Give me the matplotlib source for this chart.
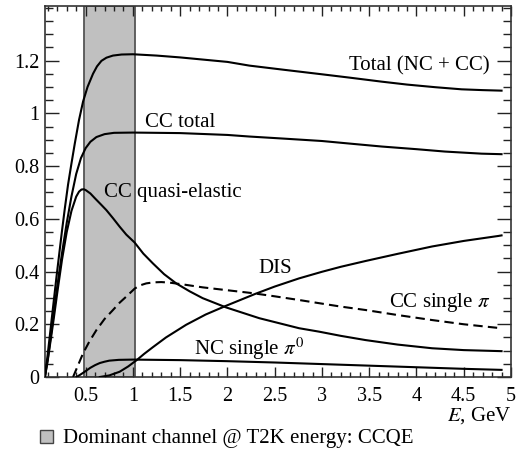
import matplotlib
matplotlib.use("Agg")
import matplotlib.pyplot as plt
from matplotlib.patches import Patch
from matplotlib.ticker import MultipleLocator, FuncFormatter

plt.rcParams['font.family'] = ['Liberation Serif', 'DejaVu Serif']
plt.rcParams['mathtext.fontset'] = 'stix'

# ---- data ----
total_E = [0.069, 0.10, 0.13, 0.16, 0.19, 0.22, 0.25, 0.28, 0.314, 0.35, 0.385, 0.43, 0.473, 0.52, 0.578,
           0.62, 0.667, 0.72, 0.789, 0.88, 1.0, 1.25, 1.5, 2.0, 2.231, 2.6, 3.0, 3.3, 3.634, 3.9, 4.2,
           4.478, 4.7, 4.9]
total_s = [0.0, 0.09, 0.185, 0.28, 0.375, 0.465, 0.555, 0.64, 0.73, 0.81, 0.885, 0.975, 1.045, 1.1, 1.15,
           1.178, 1.199, 1.211, 1.219, 1.223, 1.224, 1.219, 1.212, 1.195, 1.181, 1.165, 1.148, 1.135, 1.12,
           1.109, 1.099, 1.091, 1.088, 1.086]

cctot_E = [0.069, 0.10, 0.13, 0.16, 0.2, 0.25, 0.3, 0.35, 0.4, 0.45, 0.5, 0.55, 0.614, 0.7, 0.8, 1.0,
           1.5, 2.0, 2.231, 2.6, 3.0, 3.3, 3.634, 4.0, 4.3, 4.689, 4.9]
cctot_s = [0.0, 0.07, 0.15, 0.235, 0.345, 0.47, 0.585, 0.685, 0.77, 0.83, 0.868, 0.892, 0.91, 0.921, 0.926,
           0.927, 0.925, 0.918, 0.912, 0.904, 0.895, 0.885, 0.874, 0.864, 0.855, 0.847, 0.845]

ccqe_E = [0.069, 0.10, 0.13, 0.16, 0.2, 0.25, 0.3, 0.35, 0.4, 0.43, 0.456, 0.48, 0.5, 0.55, 0.6, 0.66,
          0.719, 0.79, 0.86, 0.93, 1.018, 1.11, 1.211, 1.33, 1.458, 1.6, 1.738, 1.985, 2.337, 2.758,
          2.969, 3.2, 3.462, 3.8, 4.165, 4.5, 4.9]
ccqe_s = [0.0, 0.065, 0.14, 0.215, 0.32, 0.445, 0.55, 0.63, 0.684, 0.703, 0.711, 0.712, 0.709, 0.696,
          0.677, 0.655, 0.633, 0.602, 0.57, 0.54, 0.51, 0.468, 0.431, 0.39, 0.355, 0.325, 0.299, 0.264,
          0.223, 0.185, 0.172, 0.156, 0.14, 0.123, 0.109, 0.102, 0.098]

ccpi_E = [0.367, 0.42, 0.473, 0.54, 0.614, 0.7, 0.789, 0.86, 0.93, 1.018, 1.071, 1.141, 1.22, 1.3, 1.387,
          1.55, 1.738, 2.0, 2.266, 2.5, 2.758, 2.969, 3.2, 3.462, 3.8, 4.165, 4.5, 4.868, 4.9]
ccpi_s = [0.0, 0.045, 0.09, 0.135, 0.178, 0.22, 0.254, 0.282, 0.305, 0.335, 0.347, 0.355, 0.359, 0.36, 0.358,
          0.35, 0.34, 0.329, 0.318, 0.306, 0.292, 0.28, 0.267, 0.254, 0.235, 0.216, 0.2, 0.186, 0.184]

dis_E = [0.65, 0.75, 0.86, 0.95, 1.04, 1.12, 1.211, 1.35, 1.563, 1.77, 1.985, 2.3, 2.5, 2.758, 3.0,
         3.2, 3.462, 3.8, 4.165, 4.5, 4.868, 4.9]
dis_s = [0.0, 0.006, 0.02, 0.04, 0.064, 0.088, 0.113, 0.15, 0.198, 0.237, 0.27, 0.316, 0.343, 0.374, 0.399,
         0.418, 0.44, 0.467, 0.495, 0.516, 0.535, 0.537]

ncpi0_E = [0.403, 0.44, 0.47, 0.51, 0.55, 0.6, 0.65, 0.7, 0.75, 0.85, 1.0, 1.5, 2.0, 2.5, 3.0, 3.5,
           4.0, 4.5, 4.9]
ncpi0_s = [0.0, 0.008, 0.015, 0.025, 0.035, 0.045, 0.053, 0.058, 0.062, 0.065, 0.066, 0.064, 0.06,
           0.055, 0.049, 0.043, 0.037, 0.031, 0.027]

band_lo, band_hi = 0.48, 1.02

x_ticks = [0.5, 1, 1.5, 2, 2.5, 3, 3.5, 4, 4.5, 5]
y_ticks = [0, 0.2, 0.4, 0.6, 0.8, 1.0, 1.2]

# ---- figure ----
fig = plt.figure(figsize=(5.17, 4.57), dpi=100)
ax = fig.add_axes([45/517, 1 - 377/457, (511 - 45)/517, (377 - 6)/457])

ax.axvspan(band_lo, band_hi, facecolor='#c0c0c0', edgecolor='#555555', lw=1.3, zorder=0)

lw = 1.5
ax.plot(total_E, total_s, color='black', lw=lw, zorder=3)
ax.plot(cctot_E, cctot_s, color='black', lw=lw, zorder=3)
ax.plot(ccqe_E, ccqe_s, color='black', lw=lw, zorder=3)
ax.plot(ccpi_E, ccpi_s, color='black', lw=lw, ls=(0, (4.5, 2.5)), zorder=3)
ax.plot(dis_E, dis_s, color='black', lw=lw, zorder=3)
ax.plot(ncpi0_E, ncpi0_s, color='black', lw=lw, zorder=3)

ax.set_xlim(0.07, 5.0)
ax.set_ylim(0, 1.407)

ax.set_xticks(x_ticks)
ax.set_yticks(y_ticks)
ax.xaxis.set_minor_locator(MultipleLocator(0.1))
ax.yaxis.set_minor_locator(MultipleLocator(0.05))
fmt = FuncFormatter(lambda v, p: '%g' % v)
ax.xaxis.set_major_formatter(fmt)
ax.yaxis.set_major_formatter(fmt)

ax.tick_params(axis='both', which='both', direction='in', top=True, right=True,
               colors='#222222', width=1.0, labelcolor='black', labelsize=14.5)
ax.tick_params(axis='x', which='major', length=7, pad=7)
ax.tick_params(axis='x', which='minor', length=3.5)
ax.tick_params(axis='y', which='major', length=10, pad=4)
ax.tick_params(axis='y', which='minor', length=6)
for s in ax.spines.values():
    s.set_color('#333333')
    s.set_linewidth(1.2)

fs = 15
ax.text(4.777, 1.161, 'Total (NC + CC)', ha='right', va='baseline', fontsize=fs)
ax.text(1.128, 0.949, 'CC total', ha='left', va='baseline', fontsize=fs)
ax.text(0.694, 0.684, 'CC quasi-elastic', ha='left', va='baseline', fontsize=fs, zorder=4)
ax.text(2.327, 0.396, 'DIS', ha='left', va='baseline', fontsize=fs)
ax.text(3.705, 0.264, r'CC single $\pi$', ha='left', va='baseline', fontsize=fs)
ax.text(1.646, 0.083, r'NC single $\pi^0$', ha='left', va='baseline', fontsize=fs)

fig.text(511/517, 1 - 421/457, r'$E$, GeV', ha='right', va='baseline', fontsize=fs)

handle = Patch(facecolor='#c0c0c0', edgecolor='#444444', lw=1.0)
fig.legend([handle], ['Dominant channel @ T2K energy: CCQE'], loc='center left',
           bbox_to_anchor=(40/517, 1 - 439/457), frameon=False, fontsize=fs,
           handlelength=0.6, handleheight=0.6, handletextpad=0.5,
           borderpad=0, borderaxespad=0)

fig.savefig('out.png', dpi=100)
